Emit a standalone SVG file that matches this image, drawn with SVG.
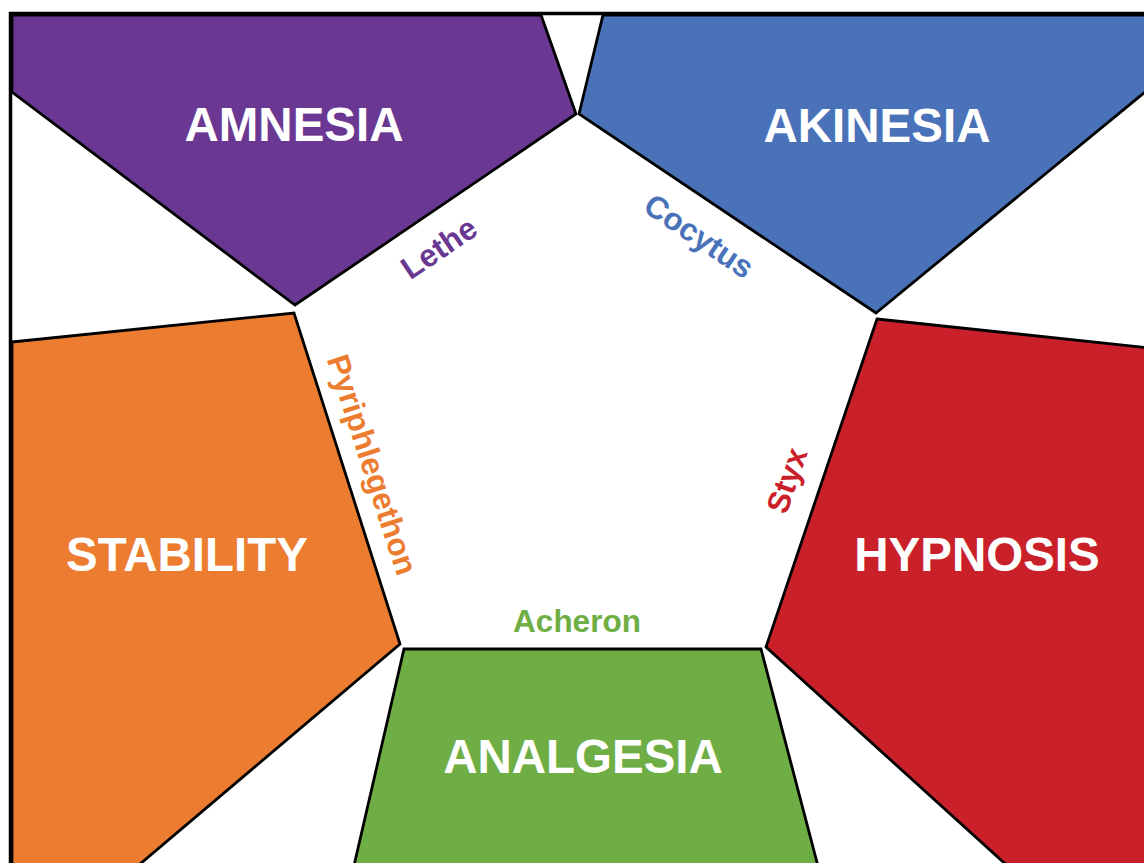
<svg xmlns="http://www.w3.org/2000/svg" width="1144" height="863" viewBox="0 0 1144 863">
<style>
.shape{stroke:#000;stroke-width:2.8;stroke-linejoin:miter}
.big{font-family:"Liberation Sans",Arial,sans-serif;font-weight:bold;font-size:47.5px;fill:#fff;text-anchor:middle}
.river{font-family:"Liberation Sans",Arial,sans-serif;font-weight:bold;font-size:31.5px;text-anchor:middle}
</style>
<rect x="0" y="0" width="1144" height="863" fill="#fff"/>
<g id="amnesia">
<polygon class="shape" fill="#6a3893" points="12,15 541,15 576,114 295,305 12,92"/>
<text class="big" x="294" y="141">AMNESIA</text>
</g>
<g id="akinesia">
<polygon class="shape" fill="#4a72b8" points="579,114 603,15 1150,15 1150,88 876,313"/>
<text class="big" x="877" y="142">AKINESIA</text>
</g>
<g id="hypnosis">
<polygon class="shape" fill="#c9202a" points="877,319 1150,348 1150,870 1012,870 766,647"/>
<text class="big" x="977" y="571">HYPNOSIS</text>
</g>
<g id="analgesia">
<polygon class="shape" fill="#6fae45" points="404,649 761,649 819,870 353,870"/>
<text class="big" x="583" y="773">ANALGESIA</text>
</g>
<g id="stability">
<polygon class="shape" fill="#ec7d30" points="12,342 294,313 400,644 133,870 12,870"/>
<text class="big" x="187" y="571">STABILITY</text>
</g>
<g id="rivers">
<text class="river" fill="#6a3893" transform="translate(445,257) rotate(-34)">Lethe</text>
<text class="river" fill="#4a72b8" transform="translate(693,245) rotate(34)">Cocytus</text>
<text class="river" fill="#ec7d30" transform="translate(362,468) rotate(72)">Pyriphlegethon</text>
<text class="river" fill="#c9202a" transform="translate(797,484) rotate(-71)">Styx</text>
<text class="river" fill="#6fae45" x="577" y="632">Acheron</text>
</g>
<g id="connectors"></g>
<rect x="10.5" y="13.5" width="1200" height="900" fill="none" stroke="#000" stroke-width="3.5"/>
</svg>
